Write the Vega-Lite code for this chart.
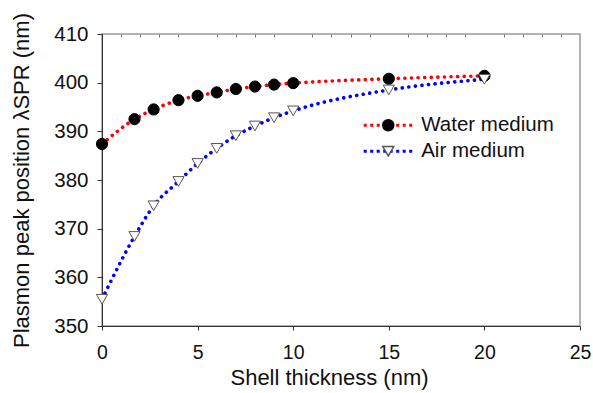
{
  "$schema": "https://vega.github.io/schema/vega-lite/v6.json",
  "width": 478,
  "height": 292,
  "autosize": "none",
  "padding": {"left": 102, "top": 34, "right": 13, "bottom": 67},
  "background": "white",
  "config": {
    "font": "Liberation Sans",
    "view": {"stroke": "#9a9a9a", "strokeWidth": 1.5},
    "axis": {
      "labelFont": "Liberation Sans",
      "titleFont": "Liberation Sans",
      "labelColor": "#111111",
      "titleColor": "#111111",
      "titleFontWeight": "normal",
      "domainColor": "#333333",
      "tickColor": "#333333",
      "grid": false
    },
    "legend": {"labelFont": "Liberation Sans", "labelColor": "#111111"}
  },
  "data": {
    "values": [
      {"medium": "Water medium", "x": 0, "y": 387.4},
      {"medium": "Water medium", "x": 1.7, "y": 392.5},
      {"medium": "Water medium", "x": 2.7, "y": 394.5},
      {"medium": "Water medium", "x": 4, "y": 396.4},
      {"medium": "Water medium", "x": 5, "y": 397.3},
      {"medium": "Water medium", "x": 6, "y": 398.0},
      {"medium": "Water medium", "x": 7, "y": 398.7},
      {"medium": "Water medium", "x": 8, "y": 399.2},
      {"medium": "Water medium", "x": 9, "y": 399.6},
      {"medium": "Water medium", "x": 10, "y": 399.9},
      {"medium": "Water medium", "x": 15, "y": 400.8},
      {"medium": "Water medium", "x": 20, "y": 401.4},
      {"medium": "Air medium", "x": 0, "y": 355.5},
      {"medium": "Air medium", "x": 1.7, "y": 368.4},
      {"medium": "Air medium", "x": 2.7, "y": 374.7},
      {"medium": "Air medium", "x": 4, "y": 379.7},
      {"medium": "Air medium", "x": 5, "y": 383.4},
      {"medium": "Air medium", "x": 6, "y": 386.5},
      {"medium": "Air medium", "x": 7, "y": 389.1},
      {"medium": "Air medium", "x": 8, "y": 391.1},
      {"medium": "Air medium", "x": 9, "y": 392.8},
      {"medium": "Air medium", "x": 10, "y": 394.2},
      {"medium": "Air medium", "x": 15, "y": 398.5},
      {"medium": "Air medium", "x": 20, "y": 400.7}
    ]
  },
  "layer": [
    {
      "mark": {"type": "line", "interpolate": "monotone", "strokeDash": [0.1, 6.5], "strokeCap": "round", "strokeWidth": 3.6},
      "encoding": {
        "x": {
          "field": "x", "type": "quantitative",
          "scale": {"domain": [0, 25], "nice": false},
          "axis": {"values": [0, 5, 10, 15, 20, 25], "title": "Shell thickness (nm)", "labelFontSize": 19.5, "titleFontSize": 22, "tickSize": 4, "labelPadding": 13, "titlePadding": 6, "titleX": 227, "labelFlush": false}
        },
        "y": {
          "field": "y", "type": "quantitative",
          "scale": {"domain": [350, 410], "nice": false},
          "axis": {"values": [350, 360, 370, 380, 390, 400, 410], "title": "Plasmon peak position λSPR (nm)", "labelFontSize": 20.5, "titleFontSize": 22, "tickSize": 5, "labelPadding": 9, "titlePadding": 20}
        },
        "color": {
          "field": "medium", "type": "nominal",
          "scale": {"domain": ["Water medium", "Air medium"], "range": ["#ff0000", "#0000ff"]},
          "legend": {"orient": "none", "legendX": 275.7, "legendY": 81, "title": null, "padding": 0, "symbolType": "M-4.85,0L-4.25,0M-3.55,0L-2.95,0M-2.25,0L-1.65,0M-0.95,0L-0.35,0M0.35,0L0.95,0M1.65,0L2.25,0M2.95,0L3.55,0M4.25,0L4.85,0", "symbolSize": 100, "symbolStrokeWidth": 3.2, "symbolFillColor": "transparent", "labelFontSize": 20.5, "labelOffset": 23, "rowPadding": 5}
        }
      }
    },
    {
      "mark": {"type": "point", "filled": true, "size": 125, "strokeWidth": 1, "opacity": 1},
      "encoding": {
        "x": {
          "field": "x", "type": "quantitative",
          "axis": {"values": [1, 2, 3, 4, 6, 7, 8, 9, 11, 12, 13, 14, 16, 17, 18, 19, 21, 22, 23, 24], "labels": false, "domain": false, "title": null, "tickSize": 3, "offset": -3, "tickColor": "#777777"}
        },
        "y": {"field": "y", "type": "quantitative"},
        "shape": {
          "field": "medium", "type": "nominal", "sort": "descending",
          "scale": {"range": ["circle", "triangle-down"]},
          "legend": {"orient": "none", "legendX": 276, "legendY": 81, "title": null, "padding": 0, "symbolSize": 120, "labelFontSize": 20.5, "labelOffset": 23, "rowPadding": 5, "labelOpacity": 0}
        },
        "fill": {"field": "medium", "type": "nominal", "sort": "descending", "scale": {"range": ["#000000", "#ffffff"]}},
        "stroke": {"field": "medium", "type": "nominal", "sort": "descending", "scale": {"range": ["#000000", "#555555"]}}
      }
    }
  ],
  "resolve": {"axis": {"x": "independent"}}
}
